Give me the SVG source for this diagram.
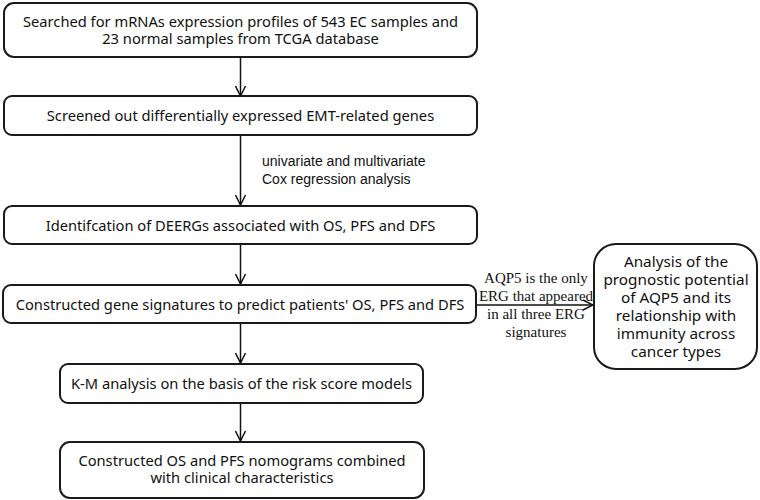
<svg xmlns="http://www.w3.org/2000/svg" width="760" height="500" viewBox="0 0 760 500">
<defs>
<style>
.box{fill:#fff;stroke:#1a1a1a;stroke-width:2}
.t{font-family:"Noto Sans","Open Sans",sans-serif;font-size:14.7px;fill:#111;text-anchor:middle}
.r{font-size:15.3px}
.lab{font-family:"Liberation Sans",Arial,sans-serif;font-size:14px;fill:#111}
.serif{font-family:"Liberation Serif","Times New Roman",serif;font-size:15px;fill:#111;text-anchor:middle}
.edge{stroke:#111;stroke-width:1.5;fill:none}
</style>
<marker id="arr" viewBox="0 0 12 12" refX="11" refY="6" markerWidth="12" markerHeight="12" markerUnits="userSpaceOnUse" orient="auto">
<path d="M1,1 L11,6 L1,11" fill="none" stroke="#111" stroke-width="1.5"/>
</marker>
</defs>
<rect width="760" height="500" fill="#fff"/>
<g id="connectors">
<line class="edge" x1="240.5" y1="57" x2="240.5" y2="96" marker-end="url(#arr)"/>
<line class="edge" x1="240.5" y1="135" x2="240.5" y2="205" marker-end="url(#arr)"/>
<text class="lab" x="262" y="166">univariate and multivariate</text>
<text class="lab" x="262" y="184">Cox regression analysis</text>
<line class="edge" x1="240.5" y1="244" x2="240.5" y2="284" marker-end="url(#arr)"/>
<line class="edge" x1="476" y1="305" x2="593" y2="305" marker-end="url(#arr)"/>
<text class="serif" x="536" y="283">AQP5 is the only</text>
<text class="serif" x="536" y="301">ERG that appeared</text>
<text class="serif" x="536" y="319">in all three ERG</text>
<text class="serif" x="536" y="337">signatures</text>
<line class="edge" x1="240.5" y1="323" x2="240.5" y2="363" marker-end="url(#arr)"/>
<line class="edge" x1="240.5" y1="403" x2="240.5" y2="441" marker-end="url(#arr)"/>
</g>
<g id="n1">
<rect class="box" x="4" y="3" width="473" height="54" rx="10"/>
<text class="t" x="240.5" y="27">Searched for mRNAs expression profiles of 543 EC samples and</text>
<text class="t" x="240.5" y="44">23 normal samples from TCGA database</text>
</g>
<g id="n2">
<rect class="box" x="4" y="96" width="473" height="39" rx="8"/>
<text class="t" x="240.5" y="121">Screened out differentially expressed EMT-related genes</text>
</g>
<g id="n3">
<rect class="box" x="4" y="206" width="473" height="38" rx="8"/>
<text class="t" x="240.5" y="230.5">Identifcation of DEERGs associated with OS, PFS and DFS</text>
</g>
<g id="n4">
<rect class="box" x="3" y="285" width="473" height="38" rx="8"/>
<text class="t" x="240" y="309.5">Constructed gene signatures to predict patients' OS, PFS and DFS</text>
</g>
<g id="n5">
<rect class="box" x="60" y="364" width="363" height="39" rx="8"/>
<text class="t" x="241.5" y="388.5">K-M analysis on the basis of the risk score models</text>
</g>
<g id="n6">
<rect class="box" x="60" y="442" width="364" height="56" rx="10"/>
<text class="t" x="242" y="466">Constructed OS and PFS nomograms combined</text>
<text class="t" x="242" y="483">with clinical characteristics</text>
</g>
<g id="n7">
<rect class="box" x="594" y="244" width="163" height="125" rx="22"/>
<text class="t r" x="676" y="267">Analysis of the</text>
<text class="t r" x="676" y="285">prognostic potential</text>
<text class="t r" x="676" y="303">of AQP5 and its</text>
<text class="t r" x="676" y="321">relationship with</text>
<text class="t r" x="676" y="339">immunity across</text>
<text class="t r" x="676" y="357">cancer types</text>
</g>
</svg>
